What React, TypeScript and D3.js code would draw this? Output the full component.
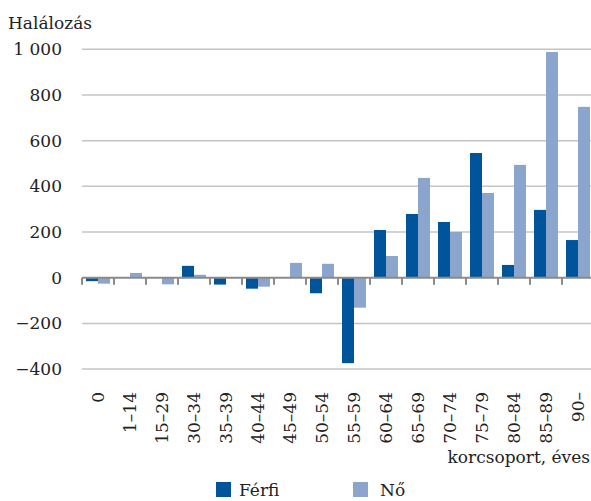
import React from "react";
import * as d3 from "d3";

const categories = ["0", "1–14", "15–29", "30–34", "35–39", "40–44", "45–49", "50–54", "55–59", "60–64", "65–69", "70–74", "75–79", "80–84", "85–89", "90–"];
const ferfi = [-15, 0, 0, 52, -30, -48, 0, -68, -374, 209, 279, 244, 546, 56, 297, 165];
const no = [-26, 21, -29, 13, 0, -39, 65, 61, -131, 95, 437, 200, 371, 494, 988, 748];
const yTicks = [-400, -200, 0, 200, 400, 600, 800, 1000];
const seriesNames = ["Férfi", "Nő"];
const colors = ["#00559a", "#8ba5cc"];

const FONT = "\"DejaVu Serif\", serif";
const ts: React.CSSProperties = { fontFamily: FONT, fontSize: "17px" };

function fmt(v: number) {
  const s = Math.abs(v).toString();
  const withSpace = s.length > 3 ? s.slice(0, s.length - 3) + "\u00a0" + s.slice(-3) : s;
  return v < 0 ? "\u2212" + withSpace : withSpace;
}

export default function App() {
  const W = 591, H = 501;
  const left = 82;
  const x = d3.scaleBand<string>().domain(categories).range([left, left + 32 * categories.length]).padding(0);
  const inner = d3.scaleBand<string>().domain(seriesNames).range([4, 28]).padding(0);
  const y = d3.scaleLinear().domain([-400, 1000]).range([369.1, 49.3]);
  const data = [ferfi, no];
  const y0 = y(0);

  return (
    <svg width={W} height={H} style={{ position: "absolute", left: 0, top: 0, background: "#fff" }}>
      <text x={8} y={29} style={ts} fill="#222">Halálozás</text>
      {yTicks.map((t) => (
        <g key={t}>
          {t !== 0 && <line x1={left} x2={W} y1={y(t)} y2={y(t)} stroke="#c4c4c4" strokeWidth={1.5} />}
          <text x={62} y={y(t)} dy="0.35em" textAnchor="end" style={ts} fill="#222">{fmt(t)}</text>
        </g>
      ))}
      {data.map((vals, si) =>
        vals.map((v, i) => {
          const bx = (x(categories[i]) as number) + (inner(seriesNames[si]) as number);
          const top = Math.min(y(v), y0);
          const h = Math.abs(y(v) - y0);
          return <rect key={si + "-" + i} x={bx} y={top} width={inner.bandwidth()} height={h} fill={colors[si]} />;
        })
      )}
      <line x1={left} x2={W} y1={y0} y2={y0} stroke="#8a8a8a" strokeWidth={2} />
      {categories.map((c, i) => (
        <line key={"t" + i} x1={(x(c) as number)} x2={(x(c) as number)} y1={y0} y2={y0 + 7} stroke="#8a8a8a" strokeWidth={2} />
      ))}
      {categories.map((c) => {
        const cx = (x(c) as number) + x.bandwidth() / 2;
        return (
          <text key={"l" + c} transform={`translate(${cx},392) rotate(-90)`} textAnchor="end" dy="0.35em" style={ts} fill="#222">{c}</text>
        );
      })}
      <text x={590} y={463} textAnchor="end" style={ts} fill="#222">korcsoport, éves</text>
      <rect x={216} y={482} width={15} height={15} fill={colors[0]} />
      <text x={239} y={496} style={ts} fill="#222">Férfi</text>
      <rect x={353} y={482} width={15} height={15} fill={colors[1]} />
      <text x={380} y={496} style={ts} fill="#222">Nő</text>
    </svg>
  );
}
